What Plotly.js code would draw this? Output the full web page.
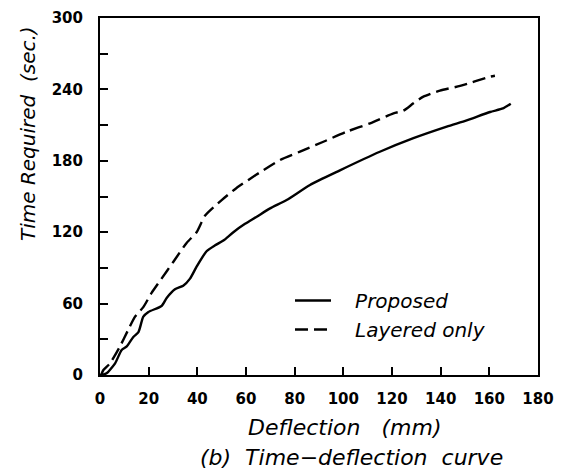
<!DOCTYPE html>
<html>
<head>
<meta charset="utf-8">
<script src="https://cdn.plot.ly/plotly-3.0.1.min.js"></script>
<style>html,body{margin:0;padding:0;background:#fff;}#chart{width:569px;height:474px;}</style>
</head>
<body>
<div id="chart"></div>
<script>
// Data
const proposedX = [0, 0.7, 2.7, 6.2, 8.9, 11, 13.7, 15.8, 17.8, 19.9, 25.3, 27.4, 30.8, 34.2, 37, 39.7, 43.8, 47.3, 50.7, 54.8, 59.6, 64.4, 69.9, 76.7, 86.3, 98.6, 115, 128.8, 142.5, 150.7, 160.3, 165.6, 168.8];
const proposedY = [0, 0, 1.4, 9.8, 21, 24, 32, 36, 49, 53, 58, 64.7, 72, 75, 81, 91, 104, 109, 113, 120, 127, 133, 140, 147, 159.7, 172, 187.6, 199, 208.7, 214, 221, 224, 228];
const layeredX = [0.5, 1.4, 4.1, 8.2, 11.6, 14.4, 17.8, 21.2, 25.3, 30.1, 35.6, 39.7, 43.2, 50, 56, 64, 74, 82.2, 91.8, 101.4, 111, 120.6, 124.7, 128.8, 132.9, 139.7, 148, 160.3, 162.3];
const layeredY = [0, 4.2, 9.8, 24, 38, 49, 57, 69, 81, 95, 111, 120, 134, 147, 157, 168, 180.7, 187.7, 196, 204.5, 211.5, 219.9, 222.1, 228.3, 233.9, 239, 242.9, 250.7, 251.5];
const seriesNames = ["Proposed", "Layered only"];
const xTickVals = [0, 20, 40, 60, 80, 100, 120, 140, 160, 180];
const yTickVals = [0, 60, 120, 180, 240, 300];
const xTitle = "Deflection\u00a0\u00a0\u00a0(mm)";
const yTitle = "Time\u00a0Required\u00a0\u00a0(sec.)";
const caption = "(b)\u00a0\u00a0Time\u2212deflection\u00a0\u00a0curve";

const W = 569, H = 474;
const L = 100, R = 31, T = 18, B = 99;
const pw = W - L - R, ph = H - T - B;
const px = v => (v - L) / pw;
const py = v => (H - B - v) / ph;

const fam = "DejaVu Sans, Verdana, sans-serif";
const pad = "\u00a0\u00a0\u00a0";

const traces = [
  {x: proposedX, y: proposedY, name: pad + seriesNames[0], mode: 'lines',
   line: {color: '#000', width: 2.4, shape: 'spline', smoothing: 0.6}},
  {x: layeredX, y: layeredY, name: pad + seriesNames[1], mode: 'lines',
   line: {color: '#000', width: 2.4, dash: '13px,6px', shape: 'spline', smoothing: 0.6}}
];

const axisCommon = {
  showgrid: false, zeroline: false, showline: true, mirror: true,
  linecolor: '#000', linewidth: 2, ticks: 'inside', ticklen: 8, tickwidth: 2,
  tickcolor: '#000', tickfont: {family: fam, size: 15, color: '#000', weight: 'bold'}
};

const layout = {
  width: W, height: H,
  margin: {l: L, r: R, t: T, b: B, pad: 0},
  paper_bgcolor: '#fff', plot_bgcolor: '#fff',
  showlegend: true,
  legend: {x: px(290), y: py(281), xanchor: 'left', yanchor: 'top',
           bgcolor: 'rgba(0,0,0,0)', borderwidth: 0,
           font: {family: fam, size: 20, color: '#000', style: 'italic'},
           tracegroupgap: 0, itemwidth: 36},
  xaxis: Object.assign({}, axisCommon, {range: [0, 180], tickvals: xTickVals,
           ticklabelstandoff: 9}),
  yaxis: Object.assign({}, axisCommon, {range: [0, 300], tickvals: yTickVals,
           ticklabelstandoff: 12,
           minor: {dtick: 30, tick0: 0, ticks: 'inside', ticklen: 8, tickwidth: 2, tickcolor: '#000', showgrid: false}}),
  annotations: [
    {text: xTitle, xref: 'paper', yref: 'paper', x: px(344), y: py(428),
     xanchor: 'center', yanchor: 'middle', showarrow: false,
     font: {family: fam, size: 22, color: '#000', style: 'italic'}},
    {text: caption, xref: 'paper', yref: 'paper', x: px(351), y: py(457),
     xanchor: 'center', yanchor: 'middle', showarrow: false,
     font: {family: fam, size: 22, color: '#000', style: 'italic'}},
    {text: yTitle, xref: 'paper', yref: 'paper', x: px(28), y: py(134),
     xanchor: 'center', yanchor: 'middle', showarrow: false, textangle: -90,
     font: {family: fam, size: 20, color: '#000', style: 'italic'}}
  ]
};

Plotly.newPlot('chart', traces, layout, {staticPlot: true, displayModeBar: false});
</script>
</body>
</html>
